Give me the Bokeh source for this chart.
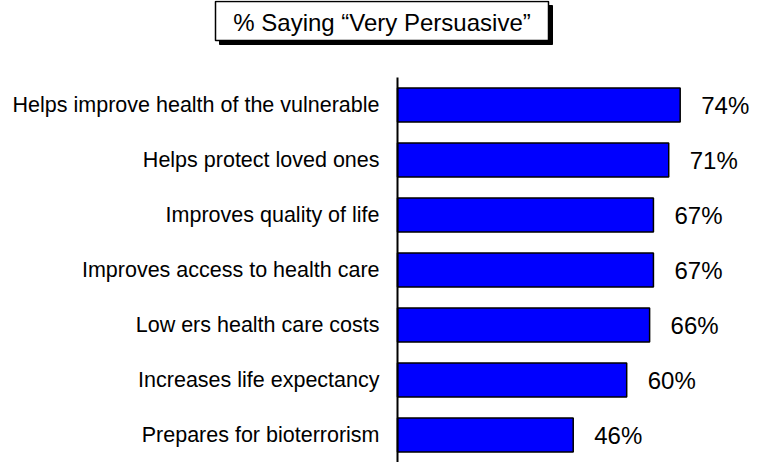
from bokeh.plotting import figure
from bokeh.models import Range1d, ColumnDataSource
from bokeh.core.properties import value
from bokeh.embed import file_html
from bokeh.resources import INLINE

categories = [
    "Helps improve health of the vulnerable",
    "Helps protect loved ones",
    "Improves quality of life",
    "Improves access to health care",
    "Low ers health care costs",
    "Increases life expectancy",
    "Prepares for bioterrorism",
]
values = [74, 71, 67, 67, 66, 60, 46]
value_labels = [f"{v}%" for v in values]
title_text = "% Saying \u201cVery Persuasive\u201d"

FONT = "Liberation Sans"
W, H = 764, 462

# layout (pixels)
AXIS_PX = 397          # x pixel of the value axis origin
PX_PER_PCT = 3.82      # horizontal scale
ROW_PX = 55            # vertical spacing between bars

n = len(categories)
ypos = [n - 1 - i for i in range(n)]   # top category at the top

x_start = -AXIS_PX / PX_PER_PCT
x_end = (W - AXIS_PX) / PX_PER_PCT
y_start = -0.5
y_end = y_start + H / ROW_PX

p = figure(width=W, height=H,
           x_range=Range1d(x_start, x_end), y_range=Range1d(y_start, y_end),
           output_backend="svg", toolbar_location=None,
           min_border_left=0, min_border_right=0, min_border_top=0, min_border_bottom=0)
p.axis.visible = False
p.grid.visible = False
p.outline_line_color = None
p.extra_x_ranges = {"px": Range1d(0, W)}
p.extra_y_ranges = {"px": Range1d(H, 0)}

source = ColumnDataSource(dict(y=ypos, cat=categories, val=values, lab=value_labels))

# bars
p.hbar(y="y", left=0, right="val", height=0.62, source=source,
       fill_color="#0000FF", line_color="black", line_width=1.5)

# category axis line
p.segment(x0=[0], x1=[0], y0=[-0.5], y1=[n - 0.5], line_color="black", line_width=2)

# category labels
p.text(x=0, y="y", text="cat", source=source, x_offset=-18,
       text_align="right", text_baseline="middle",
       text_font=value(FONT), text_font_size="21.5px", text_color="black")

# value labels
p.text(x="val", y="y", text="lab", source=source, x_offset=21,
       text_align="left", text_baseline="middle",
       text_font=value(FONT), text_font_size="24px", text_color="black")

# title box with drop shadow (pixel coordinates)
BOX_L, BOX_R, BOX_T, BOX_B = 215, 548, 1, 40
SHADOW = 4
p.quad(left=[BOX_L + SHADOW], right=[BOX_R + SHADOW], top=[BOX_T + SHADOW], bottom=[BOX_B + SHADOW],
       fill_color="black", line_color="black", x_range_name="px", y_range_name="px")
p.quad(left=[BOX_L], right=[BOX_R], top=[BOX_T], bottom=[BOX_B],
       fill_color="white", line_color="black", line_width=1.5, x_range_name="px", y_range_name="px")
p.text(x=[(BOX_L + BOX_R) / 2], y=[(BOX_T + BOX_B) / 2 + 1], text=[title_text],
       text_align="center", text_baseline="middle",
       text_font=value(FONT), text_font_size="24px", text_color="black",
       x_range_name="px", y_range_name="px")

open("out.html", "w").write(file_html(p, INLINE))
